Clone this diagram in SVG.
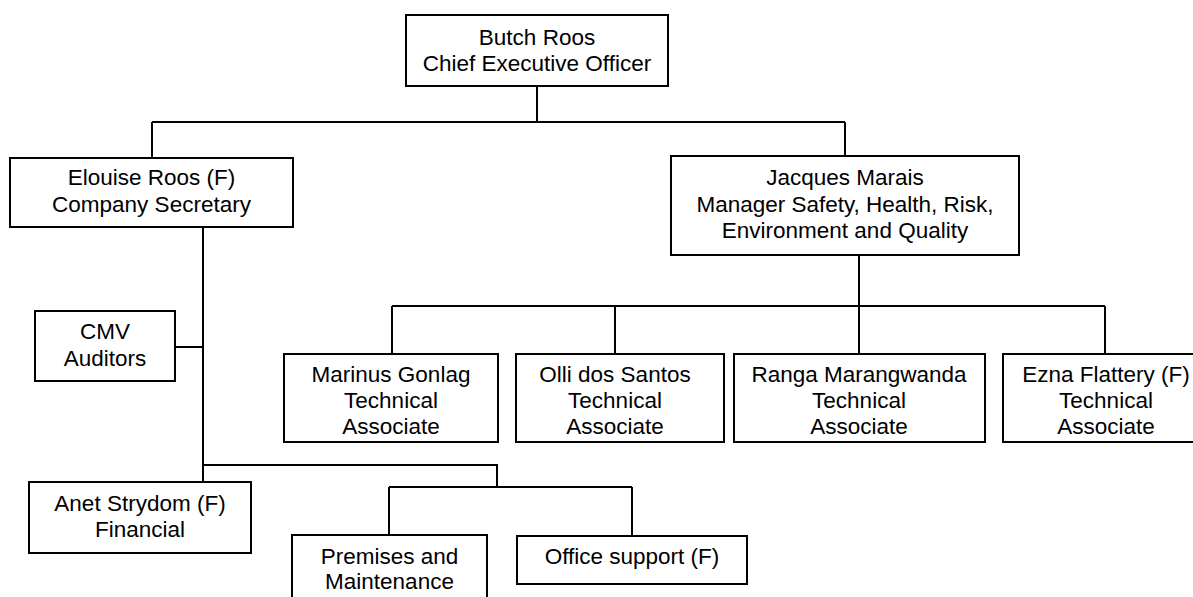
<svg xmlns="http://www.w3.org/2000/svg" width="1193" height="597" viewBox="0 0 1193 597">
<style>
.box{fill:#fff;stroke:#000;stroke-width:2}
.ln{fill:none;stroke:#000;stroke-width:2}
text{font-family:"Liberation Sans",Arial,sans-serif;font-size:22.5px;fill:#000;text-anchor:middle}
</style>
<rect width="1193" height="597" fill="#fff"/>
<g id="connectors">
<path class="ln" d="M537 86V122M152 122H845M152 122V158M845 122V156"/>
<path class="ln" d="M859 255V306M392 306H1105M392 306V354M615 306V354M859 306V354M1105 306V354"/>
<path class="ln" d="M203 227V482M175 347H203M203 465H497V487M389 487H632M389 487V535M632 487V536"/>
</g>
<g id="ceo"><rect class="box" x="406" y="15" width="262" height="71"/><text x="537" y="45">Butch Roos</text><text x="537" y="71">Chief Executive Officer</text></g>
<g id="secretary"><rect class="box" x="10" y="158" width="283" height="69"/><text x="151.5" y="185">Elouise Roos (F)</text><text x="151.5" y="212">Company Secretary</text></g>
<g id="manager"><rect class="box" x="671" y="156" width="348" height="99"/><text x="845" y="185">Jacques Marais</text><text x="845" y="212">Manager Safety, Health, Risk,</text><text x="845" y="238">Environment and Quality</text></g>
<g id="cmv"><rect class="box" x="35" y="311" width="140" height="70"/><text x="105" y="339">CMV</text><text x="105" y="366">Auditors</text></g>
<g id="marinus"><rect class="box" x="284" y="354" width="214" height="88"/><text x="391" y="382">Marinus Gonlag</text><text x="391" y="408">Technical</text><text x="391" y="434">Associate</text></g>
<g id="olli"><rect class="box" x="516" y="354" width="208" height="88"/><text x="615" y="382">Olli dos Santos</text><text x="615" y="408">Technical</text><text x="615" y="434">Associate</text></g>
<g id="ranga"><rect class="box" x="734" y="354" width="251" height="88"/><text x="859" y="382">Ranga Marangwanda</text><text x="859" y="408">Technical</text><text x="859" y="434">Associate</text></g>
<g id="ezna"><rect class="box" x="1003" y="354" width="206" height="88"/><text x="1106" y="382">Ezna Flattery (F)</text><text x="1106" y="408">Technical</text><text x="1106" y="434">Associate</text></g>
<g id="anet"><rect class="box" x="29" y="482" width="222" height="71"/><text x="140" y="511">Anet Strydom (F)</text><text x="140" y="537">Financial</text></g>
<g id="premises"><rect class="box" x="292" y="535" width="195" height="80"/><text x="389.5" y="564">Premises and</text><text x="389.5" y="589">Maintenance</text></g>
<g id="office"><rect class="box" x="517" y="536" width="230" height="48"/><text x="632" y="564">Office support (F)</text></g>
</svg>
